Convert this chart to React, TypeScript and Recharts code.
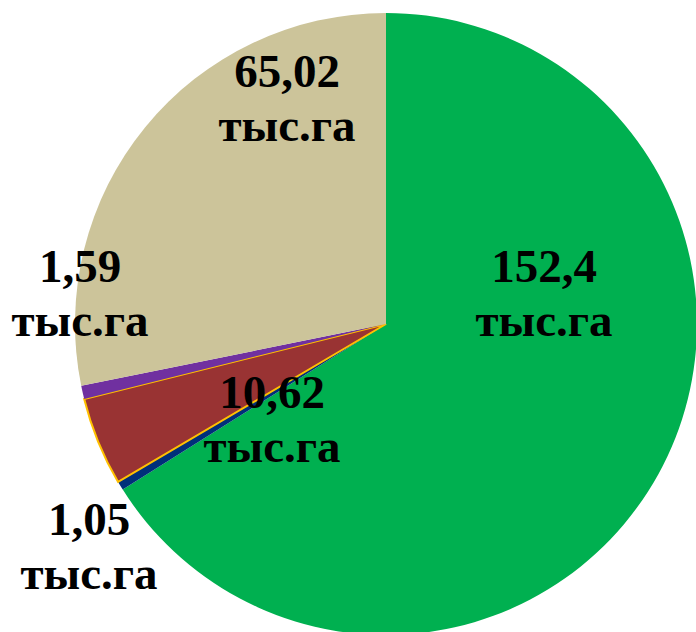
// Land structure pie — five land categories in thousand hectares, Excel-style bold serif labels.
import { Cell, Pie, PieChart } from "recharts";

const CATEGORIES = ["green", "blue", "red", "purple", "tan"];
const VALUES = [152.4, 1.05, 10.62, 1.59, 65.02];
const VALUE_LABELS = ["152,4", "1,05", "10,62", "1,59", "65,02"];
const UNIT = "тыс.га";

const COLORS = ["#00B050", "#002F7A", "#993333", "#7030A0", "#CCC49A"];
const STROKES = ["none", "none", "#FFC000", "none", "none"];
// label anchor (first line baseline) relative to the pie centre, per slice
const LABEL_OFFSETS = [
  [158, -42],
  [-297, 211],
  [-114, 84],
  [-306, -42],
  [-99, -237],
];

const data = CATEGORIES.map((name, i) => ({ name, value: VALUES[i] }));

function renderLabel(props: any) {
  const { cx, cy, index } = props;
  const [dx, dy] = LABEL_OFFSETS[index];
  const x = cx + dx;
  const y = cy + dy;
  return (
    <text
      key={`lbl-${index}`}
      x={x}
      y={y}
      textAnchor="middle"
      fill="#000"
      style={{ fontFamily: "'Liberation Serif', 'Times New Roman', serif", fontWeight: 700, fontSize: 47 }}
    >
      <tspan x={x} y={y}>{VALUE_LABELS[index]}</tspan>
      <tspan x={x} y={y + 54}>{UNIT}</tspan>
    </text>
  );
}

export default function App() {
  return (
    <div style={{ position: "absolute", left: 0, top: 0, width: 696, height: 632, background: "#fff" }}>
      <PieChart width={696} height={632} margin={{ top: 0, right: 0, bottom: 0, left: 0 }}>
        <Pie
          data={data}
          dataKey="value"
          nameKey="name"
          cx={386}
          cy={324}
          outerRadius={311}
          startAngle={90}
          endAngle={-270}
          label={renderLabel}
          labelLine={false}
          isAnimationActive={false}
        >
          {data.map((d, i) => (
            <Cell key={d.name} fill={COLORS[i]} stroke={STROKES[i]} strokeWidth={STROKES[i] === "none" ? 0 : 2} />
          ))}
        </Pie>
      </PieChart>
    </div>
  );
}
